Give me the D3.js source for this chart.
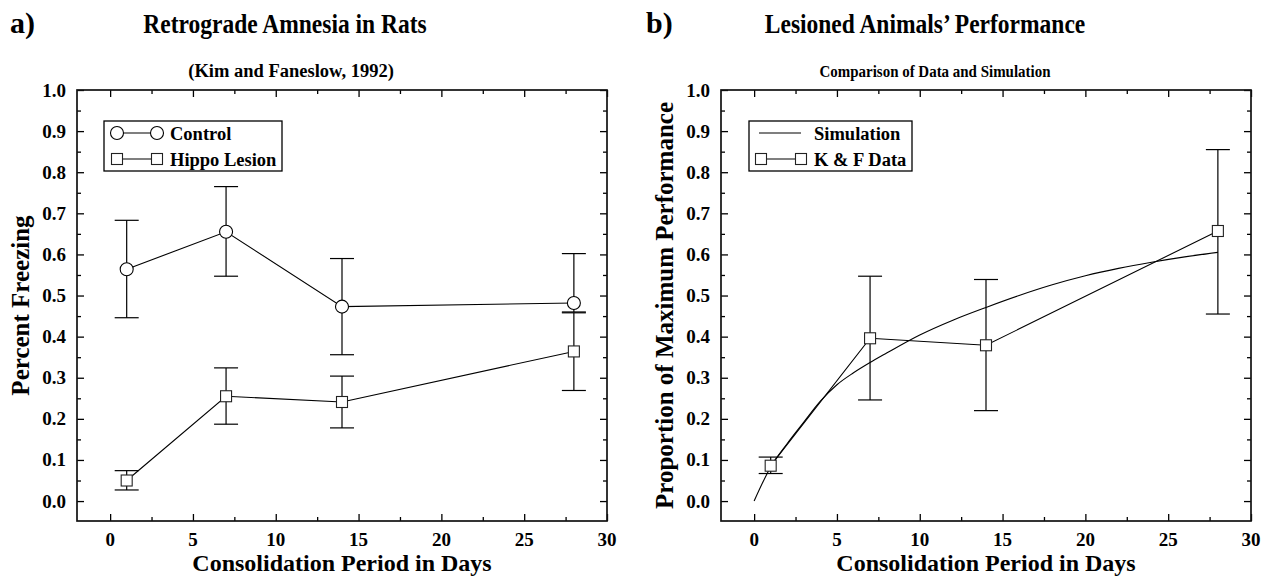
<!DOCTYPE html>
<html>
<head>
<meta charset="utf-8">
<script src="https://cdn.jsdelivr.net/npm/d3@7"></script>
<style>
  body { margin: 0; background: #fff; }
  text { font-family: 'Liberation Serif', 'Times New Roman', serif; font-weight: bold; fill: #000; }
</style>
</head>
<body>
<svg id="canvas" width="1268" height="577"></svg>
<script>
// data
let days = [1, 7, 14, 28]

let controlMean = [0.564, 0.655, 0.473, 0.482]
let controlUpper = [0.683, 0.765, 0.590, 0.602]
let controlLower = [0.446, 0.547, 0.356, 0.460]

let lesionMean = [0.050, 0.255, 0.241, 0.364]
let lesionUpper = [0.074, 0.324, 0.304, 0.458]
let lesionLower = [0.027, 0.187, 0.178, 0.269]

let kfMean = [0.086, 0.396, 0.379, 0.657]
let kfUpper = [0.107, 0.547, 0.539, 0.855]
let kfLower = [0.067, 0.246, 0.220, 0.455]

let simDays = [0, 1, 2, 3, 4, 5, 6, 7, 8, 10, 12, 14, 16, 18, 20, 22, 24, 26, 28]
let simValues = [0, 0.083, 0.140, 0.192, 0.243, 0.283, 0.312, 0.337, 0.360, 0.404, 0.440, 0.471, 0.500, 0.526, 0.548, 0.566, 0.581, 0.594, 0.605]

let xMajor = [0, 5, 10, 15, 20, 25, 30]
let xMinor = [2.5, 7.5, 12.5, 17.5, 22.5, 27.5]
let yMajor = [0, 0.1, 0.2, 0.3, 0.4, 0.5, 0.6, 0.7, 0.8, 0.9, 1.0]
let yMinor = [0.05, 0.15, 0.25, 0.35, 0.45, 0.55, 0.65, 0.75, 0.85, 0.95]

let width = 530
let height = 431

let canvas = d3.select('#canvas')

let x = d3.scaleLinear().domain([-2, 30]).range([0, width])
let y = d3.scaleLinear().domain([-0.0485, 1.0]).range([height, 0])

let drawFrame = (g, yTitle) => {
    // inward ticks on all four sides
    let addTicks = (axis, values, size, transform) => {
        g.append('g')
         .attr('transform', transform)
         .call(axis.tickValues(values).tickSize(size).tickFormat(''))
         .call(a => a.select('.domain').remove())
         .selectAll('line').attr('stroke', '#000').attr('stroke-width', 1.3)
    }
    addTicks(d3.axisBottom(x), xMajor, -7, `translate(0,${height})`)
    addTicks(d3.axisBottom(x), xMinor, -4, `translate(0,${height})`)
    addTicks(d3.axisTop(x), xMajor, -7, 'translate(0,0)')
    addTicks(d3.axisTop(x), xMinor, -4, 'translate(0,0)')
    addTicks(d3.axisLeft(y), yMajor, -7, 'translate(0,0)')
    addTicks(d3.axisLeft(y), yMinor, -4, 'translate(0,0)')
    addTicks(d3.axisRight(y), yMajor, -7, `translate(${width},0)`)
    addTicks(d3.axisRight(y), yMinor, -4, `translate(${width},0)`)

    g.append('rect')
     .attr('width', width)
     .attr('height', height)
     .attr('fill', 'none')
     .attr('stroke', '#111')
     .attr('stroke-width', 1.7)

    g.selectAll('.xlab')
     .data(xMajor)
     .enter()
     .append('text')
     .attr('x', d => x(d))
     .attr('y', height + 25)
     .attr('text-anchor', 'middle')
     .style('font-size', '19px')
     .text(d => d)

    g.selectAll('.ylab')
     .data(yMajor)
     .enter()
     .append('text')
     .attr('x', -11)
     .attr('y', d => y(d) + 6.5)
     .attr('text-anchor', 'end')
     .style('font-size', '19px')
     .text(d => d.toFixed(1))

    g.append('text')
     .attr('x', width / 2)
     .attr('y', height + 50)
     .attr('text-anchor', 'middle')
     .style('font-size', '24px')
     .text('Consolidation Period in Days')

    g.append('text')
     .attr('transform', `translate(-48,${height / 2}) rotate(-90)`)
     .attr('text-anchor', 'middle')
     .style('font-size', '25px')
     .text(yTitle)
}

let drawErrors = (g, means, upper, lower) => {
    days.forEach((d, i) => {
        let cx = x(d)
        g.append('line')
         .attr('x1', cx).attr('x2', cx)
         .attr('y1', y(upper[i])).attr('y2', y(lower[i]))
         .attr('stroke', '#000').attr('stroke-width', 1.2)
        ;[upper[i], lower[i]].forEach(v => {
            g.append('line')
             .attr('x1', cx - 12).attr('x2', cx + 12)
             .attr('y1', y(v)).attr('y2', y(v))
             .attr('stroke', '#000').attr('stroke-width', 1.2)
        })
    })
}

let drawLine = (g, xs, ys, curve) => {
    let line = d3.line()
                 .x(d => x(d[0]))
                 .y(d => y(d[1]))
                 .curve(curve || d3.curveLinear)
    g.append('path')
     .attr('d', line(xs.map((d, i) => [d, ys[i]])))
     .attr('fill', 'none')
     .attr('stroke', '#000')
     .attr('stroke-width', 1.1)
}

let circleMark = (g, cx, cy) => {
    g.append('circle')
     .attr('cx', cx).attr('cy', cy).attr('r', 6.5)
     .attr('fill', '#fff').attr('stroke', '#000').attr('stroke-width', 1.1)
}

let squareMark = (g, cx, cy) => {
    g.append('rect')
     .attr('x', cx - 5.5).attr('y', cy - 5.5)
     .attr('width', 11).attr('height', 11)
     .attr('fill', '#fff').attr('stroke', '#222').attr('stroke-width', 1.1)
}

let drawLegend = (g, entries) => {
    let lg = g.append('g')
    let box = lg.append('rect')
                .attr('fill', '#fff')
                .attr('stroke', '#000')
                .attr('stroke-width', 1.3)
    entries.forEach((e, i) => {
        let ly = 43 + i * 26
        lg.append('line')
          .attr('x1', e.mark ? 40 : 38).attr('x2', 80)
          .attr('y1', ly).attr('y2', ly)
          .attr('stroke', '#000').attr('stroke-width', 1.1)
        if (e.mark) {
            e.mark(lg, 40, ly)
            e.mark(lg, 80, ly)
        }
        lg.append('text')
          .attr('x', 93)
          .attr('y', ly + 6.5)
          .style('font-size', '18.5px')
          .text(e.label)
    })
    return box
}

// panel a
let a = canvas.append('g').attr('transform', 'translate(77,90)')
drawFrame(a, 'Percent Freezing')
drawErrors(a, controlMean, controlUpper, controlLower)
drawErrors(a, lesionMean, lesionUpper, lesionLower)
drawLine(a, days, controlMean)
drawLine(a, days, lesionMean)
days.forEach((d, i) => circleMark(a, x(d), y(controlMean[i])))
days.forEach((d, i) => squareMark(a, x(d), y(lesionMean[i])))
drawLegend(a, [
    { label: 'Control', mark: circleMark },
    { label: 'Hippo Lesion', mark: squareMark }
]).attr('x', 27).attr('y', 31).attr('width', 178).attr('height', 50)

// panel b
let b = canvas.append('g').attr('transform', 'translate(721,90)')
drawFrame(b, 'Proportion of Maximum Performance')
drawErrors(b, kfMean, kfUpper, kfLower)
drawLine(b, simDays, simValues, d3.curveMonotoneX)
drawLine(b, days, kfMean)
days.forEach((d, i) => squareMark(b, x(d), y(kfMean[i])))
drawLegend(b, [
    { label: 'Simulation', mark: null },
    { label: 'K & F Data', mark: squareMark }
]).attr('x', 28).attr('y', 31).attr('width', 163).attr('height', 50)

// titles (the original face is a little narrower than Liberation Serif)
let titles = [
    { tag: 'a)', tx: 10, title: 'Retrograde Amnesia in Rats', cx: 285, sub: '(Kim and Faneslow, 1992)', sx: 291, subSize: 18.5, subScale: 1.0 },
    { tag: 'b)', tx: 646, title: 'Lesioned Animals\u2019 Performance', cx: 925, sub: 'Comparison of Data and Simulation', sx: 935, subSize: 17, subScale: 0.88 }
]
titles.forEach(t => {
    canvas.append('text').attr('x', t.tx).attr('y', 33).style('font-size', '30px').text(t.tag)
    canvas.append('text')
          .attr('transform', `translate(${t.cx},33) scale(0.87,1)`)
          .attr('text-anchor', 'middle')
          .style('font-size', '27px')
          .text(t.title)
    canvas.append('text')
          .attr('transform', `translate(${t.sx},77) scale(${t.subScale},1)`)
          .attr('text-anchor', 'middle')
          .style('font-size', t.subSize + 'px')
          .text(t.sub)
})
</script>
</body>
</html>
